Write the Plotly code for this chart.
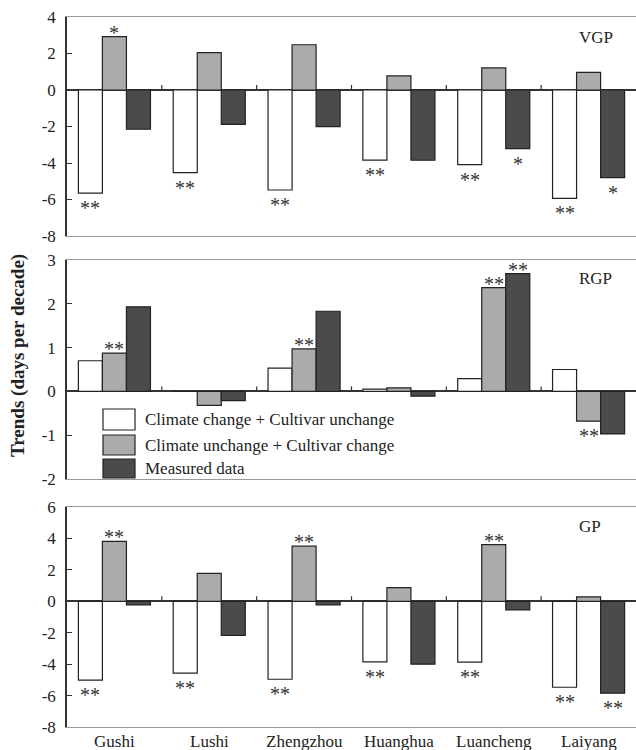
import plotly.graph_objects as go

stations = ["Gushi", "Lushi", "Zhengzhou", "Huanghua", "Luancheng", "Laiyang"]
series_names = ["Climate change + Cultivar unchange",
                "Climate unchange + Cultivar change",
                "Measured data"]
series_colors = ["#ffffff", "#ababab", "#4b4b4b"]
panel_names = ["VGP", "RGP", "GP"]

# VGP
vgp_climate = [-5.65, -4.53, -5.48, -3.84, -4.09, -5.94]
vgp_cultivar = [2.92, 2.05, 2.48, 0.77, 1.21, 0.97]
vgp_measured = [-2.15, -1.88, -2.01, -3.85, -3.21, -4.80]
vgp_sig_climate = ["**", "**", "**", "**", "**", "**"]
vgp_sig_cultivar = ["*", "", "", "", "", ""]
vgp_sig_measured = ["", "", "", "", "*", "*"]

# RGP
rgp_climate = [0.70, 0.0, 0.53, 0.05, 0.29, 0.50]
rgp_cultivar = [0.875, -0.32, 0.97, 0.08, 2.37, -0.68]
rgp_measured = [1.93, -0.21, 1.83, -0.11, 2.69, -0.97]
rgp_sig_climate = ["", "", "", "", "", ""]
rgp_sig_cultivar = ["**", "", "**", "", "**", "**"]
rgp_sig_measured = ["", "", "", "", "**", ""]

# GP
gp_climate = [-5.02, -4.57, -4.96, -3.85, -3.87, -5.47]
gp_cultivar = [3.81, 1.77, 3.51, 0.87, 3.60, 0.28]
gp_measured = [-0.23, -2.17, -0.23, -4.00, -0.55, -5.85]
gp_sig_climate = ["**", "**", "**", "**", "**", "**"]
gp_sig_cultivar = ["**", "", "**", "", "**", ""]
gp_sig_measured = ["", "", "", "", "", "**"]

# y tick values / labels (hyphen minus as in the original)
vgp_ticks = [-8, -6, -4, -2, 0, 2, 4]
rgp_ticks = [-2, -1, 0, 1, 2, 3]
gp_ticks = [-8, -6, -4, -2, 0, 2, 4, 6]

panels = [
    ([vgp_climate, vgp_cultivar, vgp_measured],
     [vgp_sig_climate, vgp_sig_cultivar, vgp_sig_measured]),
    ([rgp_climate, rgp_cultivar, rgp_measured],
     [rgp_sig_climate, rgp_sig_cultivar, rgp_sig_measured]),
    ([gp_climate, gp_cultivar, gp_measured],
     [gp_sig_climate, gp_sig_cultivar, gp_sig_measured]),
]
panel_ticks = [vgp_ticks, rgp_ticks, gp_ticks]

FONT = "Liberation Serif, Times New Roman, serif"
W, H = 636, 750
ML, MR, MT, MB = 67, 0, 17, 23
PW, PH = W - ML - MR, H - MT - MB
BARGAP = 0.24
BARW = (1 - BARGAP) / 3  # width of one bar in category units

def py(win_y):
    return (H - MB - win_y) / PH

def px(win_x):
    return (win_x - ML) / PW

domains = [[py(236), py(17)], [py(479), py(260)], [py(727), py(507)]]

xpos = list(range(len(stations)))
fig = go.Figure()
annotations = []
for p, (vals, sigs) in enumerate(panels):
    suffix = "" if p == 0 else str(p + 1)
    for s in range(3):
        fig.add_trace(go.Bar(
            x=xpos, y=vals[s], name=series_names[s],
            xaxis="x" + suffix, yaxis="y" + suffix,
            marker=dict(color=series_colors[s], line=dict(color="#222222", width=1.2)),
            showlegend=False, hoverinfo="skip",
        ))
        # significance markers
        for i, (v, mark) in enumerate(zip(vals[s], sigs[s])):
            if not mark:
                continue
            annotations.append(dict(
                xref="x" + suffix, yref="y" + suffix,
                x=i + (s - 1) * BARW, y=v, text=mark, showarrow=False,
                xanchor="center", yanchor="middle",
                yshift=4 if v >= 0 else -15,
                font=dict(family=FONT, size=20, color="#333333")))

layout = dict(
    width=W, height=H,
    margin=dict(l=ML, r=MR, t=MT, b=MB),
    paper_bgcolor="white", plot_bgcolor="white",
    barmode="group", bargap=BARGAP, bargroupgap=0,
    font=dict(family=FONT, size=17, color="#222222"),
    showlegend=False,
)
for p in range(3):
    suffix = "" if p == 0 else str(p + 1)
    ticks = panel_ticks[p]
    layout["xaxis" + suffix] = dict(
        domain=[0, 1], anchor="y" + suffix, range=[-0.5, len(stations) - 0.5],
        tickvals=xpos, showticklabels=False,
        ticks="", showgrid=False, zeroline=False,
        showline=True, mirror=True, linecolor="#9a9a9a", linewidth=1,
    )
    layout["yaxis" + suffix] = dict(
        domain=domains[p], anchor="x" + suffix, range=[ticks[0], ticks[-1]],
        tickvals=ticks, ticktext=[str(t) for t in ticks],
        ticks="inside", ticklen=5, tickcolor="#333333",
        showgrid=False, zeroline=True, zerolinecolor="#333333", zerolinewidth=2,
        showline=True, linecolor="#333333", linewidth=1.5,
        tickfont=dict(family=FONT, size=17, color="#222222"),
        ticklabelstandoff=6,
    )
fig.update_layout(**layout)

# small upward ticks on zero line at category boundaries
shapes = []
for p in range(3):
    suffix = "" if p == 0 else str(p + 1)
    for i in range(len(stations) - 1):
        shapes.append(dict(type="line", xref="x" + suffix, yref="y" + suffix,
                           x0=i + 0.5, x1=i + 0.5, ysizemode="pixel", yanchor=0,
                           y0=0, y1=5, line=dict(color="#333333", width=1.2)))

# category labels under the bottom panel
for i, st in enumerate(stations):
    annotations.append(dict(xref="x3", yref="paper", x=i, y=py(741), text=st,
                            showarrow=False, xanchor="center", yanchor="middle",
                            font=dict(family=FONT, size=17, color="#222222")))

# legend drawn in the RGP panel
legend_rows_px = [(409, 430), (435, 455), (459, 478)]
for s, (t, b) in enumerate(legend_rows_px):
    shapes.append(dict(type="rect", xref="paper", yref="paper",
                       x0=px(103), x1=px(135), y0=py(b), y1=py(t),
                       fillcolor=series_colors[s], line=dict(color="#222222", width=1.2)))
    annotations.append(dict(xref="paper", yref="paper", x=px(143), y=py((t + b) / 2),
                            text=series_names[s], showarrow=False, xanchor="left",
                            yanchor="middle", font=dict(family=FONT, size=17, color="#222222")))

# panel labels
for p, (name, ycen) in enumerate(zip(panel_names, [38, 279, 526])):
    annotations.append(dict(xref="paper", yref="paper", x=px(577), y=py(ycen),
                            text=name, showarrow=False, xanchor="left", yanchor="middle",
                            font=dict(family=FONT, size=17, color="#222222")))

annotations.append(dict(xref="paper", yref="paper", x=px(18), y=py(356),
                        text="<b>Trends (days per decade)</b>", showarrow=False,
                        textangle=-90, xanchor="center", yanchor="middle",
                        font=dict(family=FONT, size=19, color="#222222")))

fig.update_layout(shapes=shapes, annotations=annotations)
fig.write_html("out.html", config={"displayModeBar": False},
               post_script="document.body.style.margin='0';document.body.style.padding='0';")
